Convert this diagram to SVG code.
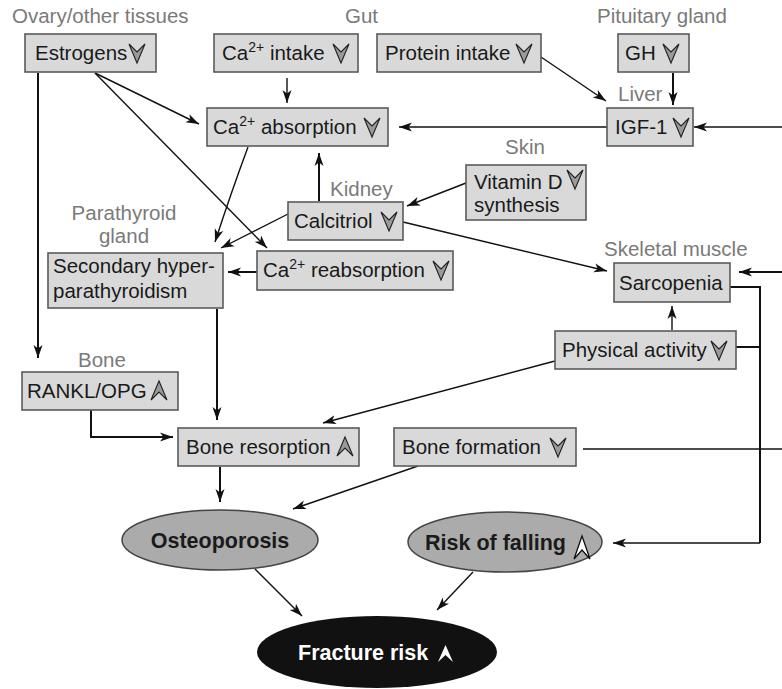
<svg xmlns="http://www.w3.org/2000/svg" width="782" height="689" viewBox="0 0 782 689">
<defs>
<style>
.box{fill:#d9d9d9;stroke:#5a5a5a;stroke-width:1.6}
.t{font-family:"Liberation Sans",Arial,sans-serif;font-size:20.5px;fill:#1a1a1a}
.lbl{font-family:"Liberation Sans",Arial,sans-serif;font-size:20.5px;fill:#7a7a7a}
.b{font-family:"Liberation Sans",Arial,sans-serif;font-size:21.5px;font-weight:bold;fill:#1a1a1a}
.ln{fill:none;stroke:#111;stroke-width:1.4}
.lt{fill:none;stroke:#111;stroke-width:2}
.ell{fill:#ababab;stroke:#444;stroke-width:1.5}
.ind{fill:#9a9a9a;stroke:#222;stroke-width:1.1;stroke-linejoin:miter}
</style>
<marker id="ah" markerUnits="userSpaceOnUse" markerWidth="14" markerHeight="10" refX="13" refY="5" orient="auto">
<path d="M0,0.5 L13,5 L0,9.5 L3.5,5 Z" fill="#111"/>
</marker>
<path id="dn" d="M0,0 L8,8 L16,0 L8,19 Z"/>
<path id="up" d="M0,19 L8,11 L16,19 L8,0 Z"/>
</defs>

<g id="connectors">
<line class="lt" x1="38" y1="73" x2="38" y2="358" marker-end="url(#ah)"/>
<line class="ln" x1="95" y1="73" x2="199" y2="124" marker-end="url(#ah)"/>
<line class="ln" x1="95" y1="73" x2="267" y2="248" marker-end="url(#ah)"/>
<line class="ln" x1="287" y1="78" x2="287" y2="103" marker-end="url(#ah)"/>
<line class="ln" x1="541" y1="57" x2="606" y2="101" marker-end="url(#ah)"/>
<line class="lt" x1="673" y1="73" x2="673" y2="105" marker-end="url(#ah)"/>
<line class="ln" x1="607" y1="127" x2="399" y2="127" marker-end="url(#ah)"/>
<line class="ln" x1="782" y1="127" x2="694" y2="127" marker-end="url(#ah)"/>
<path class="ln" d="M248,147 Q232,190 215,242" marker-end="url(#ah)"/>
<line class="lt" x1="319" y1="201" x2="319" y2="153" marker-end="url(#ah)"/>
<line class="ln" x1="466" y1="183" x2="407" y2="206" marker-end="url(#ah)"/>
<line class="ln" x1="288" y1="214" x2="221" y2="248" marker-end="url(#ah)"/>
<line class="lt" x1="257" y1="272" x2="228" y2="272" marker-end="url(#ah)"/>
<line class="ln" x1="403" y1="222" x2="607" y2="271" marker-end="url(#ah)"/>
<line class="lt" x1="782" y1="272" x2="739" y2="272" marker-end="url(#ah)"/>
<polyline class="lt" points="730,287 760,287 760,543"/>
<line class="ln" x1="760" y1="543" x2="613" y2="543" marker-end="url(#ah)"/>
<line class="lt" x1="736" y1="347" x2="760" y2="347"/>
<line class="ln" x1="672" y1="330" x2="672" y2="306" marker-end="url(#ah)"/>
<line class="ln" x1="555" y1="361" x2="323" y2="423" marker-end="url(#ah)"/>
<line class="lt" x1="217" y1="309" x2="217" y2="420" marker-end="url(#ah)"/>
<polyline class="lt" points="91,410 91,437 173,437" marker-end="url(#ah)"/>
<line class="ln" x1="583" y1="449" x2="782" y2="449"/>
<line class="lt" x1="220" y1="467" x2="220" y2="502" marker-end="url(#ah)"/>
<line class="ln" x1="418" y1="466" x2="293" y2="509" marker-end="url(#ah)"/>
<line class="ln" x1="255" y1="569" x2="302" y2="616" marker-end="url(#ah)"/>
<line class="ln" x1="473" y1="572" x2="437" y2="610" marker-end="url(#ah)"/>
</g>

<g id="estrogens">
<text class="lbl" x="12" y="23">Ovary/other tissues</text>
<rect class="box" x="25" y="34" width="131" height="38"/>
<text class="t" x="35" y="60">Estrogens</text>
<use href="#dn" class="ind" x="129" y="44"/>
</g>

<g id="ca-intake">
<text class="lbl" x="345" y="23">Gut</text>
<rect class="box" x="214" y="34" width="144" height="38"/>
<text class="t" x="222" y="60">Ca<tspan font-size="14" dy="-8">2+</tspan><tspan dy="8"> intake</tspan></text>
<use href="#dn" class="ind" x="333" y="44"/>
</g>

<g id="protein-intake">
<rect class="box" x="377" y="34" width="164" height="38"/>
<text class="t" x="385" y="60">Protein intake</text>
<use href="#dn" class="ind" x="516" y="44"/>
</g>

<g id="gh">
<text class="lbl" x="597" y="23">Pituitary gland</text>
<rect class="box" x="618" y="34" width="71" height="38"/>
<text class="t" x="625" y="60">GH</text>
<use href="#dn" class="ind" x="663" y="44"/>
</g>

<g id="igf1">
<text class="lbl" x="618" y="101">Liver</text>
<rect class="box" x="607" y="108" width="86" height="38"/>
<text class="t" x="615" y="134">IGF-1</text>
<use href="#dn" class="ind" x="673" y="118"/>
</g>

<g id="ca-absorption">
<rect class="box" x="207" y="108" width="181" height="38"/>
<text class="t" x="213" y="134">Ca<tspan font-size="14" dy="-8">2+</tspan><tspan dy="8"> absorption</tspan></text>
<use href="#dn" class="ind" x="364" y="118"/>
</g>

<g id="vitamin-d">
<text class="lbl" x="505" y="154">Skin</text>
<rect class="box" x="466" y="165" width="120" height="55"/>
<text class="t" x="474" y="189">Vitamin D</text>
<text class="t" x="474" y="212">synthesis</text>
<use href="#dn" class="ind" x="567" y="170"/>
</g>

<g id="calcitriol">
<text class="lbl" x="330" y="196">Kidney</text>
<rect class="box" x="288" y="202" width="115" height="38"/>
<text class="t" x="294" y="228">Calcitriol</text>
<use href="#dn" class="ind" x="381" y="212"/>
</g>

<g id="secondary-hpt">
<text class="lbl" x="124" y="220" text-anchor="middle">Parathyroid</text>
<text class="lbl" x="124" y="243" text-anchor="middle">gland</text>
<rect class="box" x="48" y="253" width="175" height="55"/>
<text class="t" x="53" y="273">Secondary hyper-</text>
<text class="t" x="53" y="298">parathyroidism</text>
</g>

<g id="ca-reabsorption">
<rect class="box" x="257" y="251" width="196" height="39"/>
<text class="t" x="263" y="277">Ca<tspan font-size="14" dy="-8">2+</tspan><tspan dy="8"> reabsorption</tspan></text>
<use href="#dn" class="ind" x="433" y="261"/>
</g>

<g id="sarcopenia">
<text class="lbl" x="604" y="256">Skeletal muscle</text>
<rect class="box" x="614" y="263" width="116" height="39"/>
<text class="t" x="619" y="290">Sarcopenia</text>
</g>

<g id="physical-activity">
<rect class="box" x="555" y="331" width="181" height="38"/>
<text class="t" x="562" y="357">Physical activity</text>
<use href="#dn" class="ind" x="711" y="341"/>
</g>

<g id="rankl">
<text class="lbl" x="78" y="367">Bone</text>
<rect class="box" x="22" y="372" width="156" height="38"/>
<text class="t" x="27" y="398">RANKL/OPG</text>
<use href="#up" class="ind" x="151" y="381"/>
</g>

<g id="bone-resorption">
<rect class="box" x="178" y="428" width="181" height="38"/>
<text class="t" x="186" y="454">Bone resorption</text>
<use href="#up" class="ind" x="337" y="437"/>
</g>

<g id="bone-formation">
<rect class="box" x="394" y="428" width="182" height="38"/>
<text class="t" x="402" y="454">Bone formation</text>
<use href="#dn" class="ind" x="550" y="438"/>
</g>

<g id="osteoporosis">
<ellipse class="ell" cx="220" cy="540" rx="98" ry="30"/>
<text class="b" x="220" y="548" text-anchor="middle">Osteoporosis</text>
</g>

<g id="risk-of-falling">
<ellipse class="ell" cx="505" cy="542" rx="97" ry="30"/>
<text class="b" x="425" y="550">Risk of falling</text>
<path d="M574,559 L582,550 L590,559 L582,536 Z" fill="#fff" stroke="#111" stroke-width="1.3"/>
</g>

<g id="fracture-risk">
<ellipse cx="377" cy="652" rx="120" ry="36" fill="#111"/>
<text class="b" x="298" y="660" style="fill:#fff">Fracture risk</text>
<path d="M438,662 L445.5,655 L453,662 L445.5,645 Z" fill="#fff"/>
</g>
</svg>
